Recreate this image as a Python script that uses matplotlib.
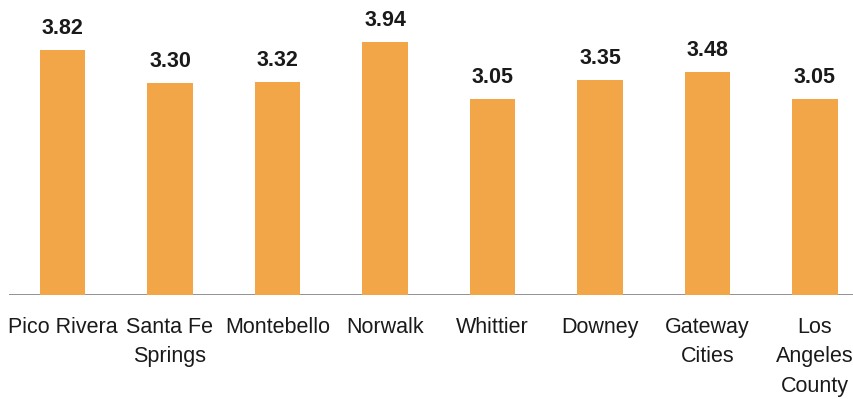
import matplotlib
matplotlib.use("Agg")
import matplotlib.pyplot as plt

# Average household size by city (values shown above the bars)
cities = ["Pico Rivera", "Santa Fe\nSprings", "Montebello", "Norwalk",
          "Whittier", "Downey", "Gateway\nCities", "Los\nAngeles\nCounty"]
household_size = [3.82, 3.30, 3.32, 3.94, 3.05, 3.35, 3.48, 3.05]

BAR_COLOR = "#F2A647"
FONT = ["Liberation Sans", "DejaVu Sans"]

fig = plt.figure(figsize=(8.54, 3.99), dpi=100)
ax = fig.add_axes([8.75 / 854, 104 / 399, 1 - 8.75 / 854, 295 / 399])

x = range(len(cities))
ax.bar(x, household_size, width=0.42, color=BAR_COLOR, zorder=2)
ax.axhline(0, color="#7f7f7f", lw=1.2, zorder=1)

for xi, v in zip(x, household_size):
    ax.annotate(f"{v:.2f}", (xi, v), xytext=(0, 8), textcoords="offset points",
                ha="center", va="bottom", fontsize=15.5, fontweight="bold",
                family=FONT, color="#1a1a1a")

ax.set_xlim(-0.5, (854 - 62.5) / 107.5)
ax.set_ylim(0, 295 / 64.14)
ax.set_xticks(list(x))
ax.set_xticklabels(cities, fontsize=15.5, family=FONT, color="#1a1a1a",
                   linespacing=1.55, ha="center", va="top")
ax.tick_params(axis="x", length=0, pad=15.5)
ax.set_yticks([])
for s in ax.spines.values():
    s.set_visible(False)

fig.savefig("out.png", dpi=100)
